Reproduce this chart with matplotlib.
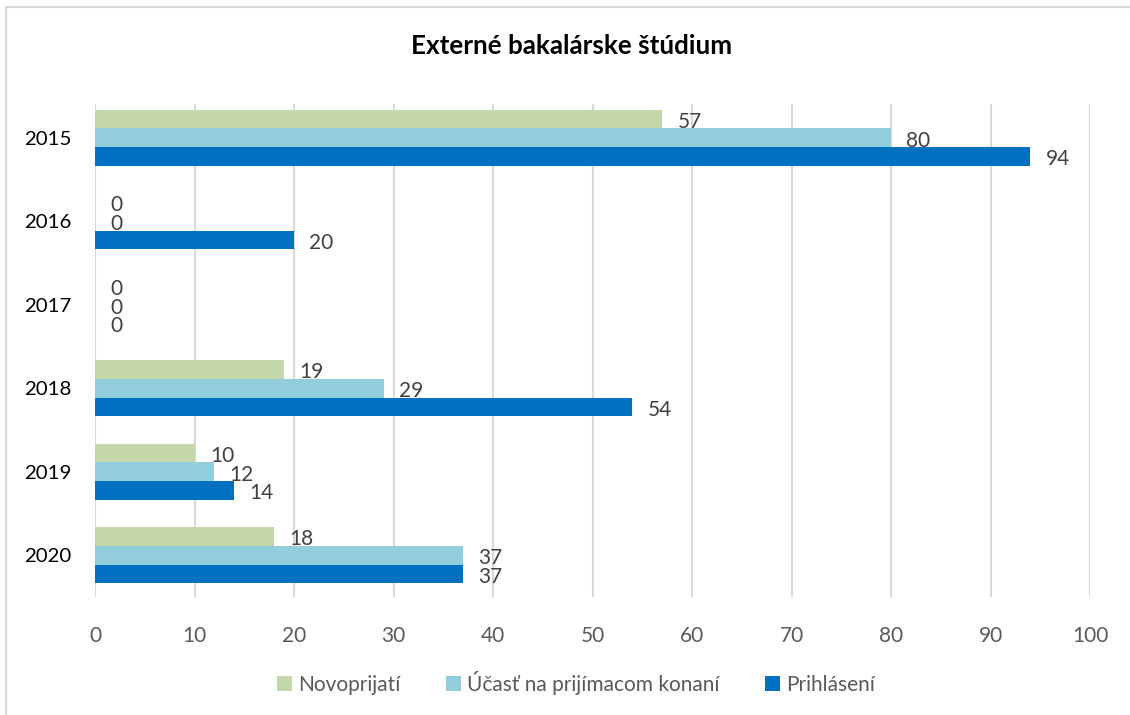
import matplotlib
matplotlib.use("Agg")
import matplotlib.pyplot as plt
from matplotlib.patches import Rectangle
import numpy as np

years = ["2015", "2016", "2017", "2018", "2019", "2020"]
novoprijati = [57, 0, 0, 19, 10, 18]
ucast = [80, 0, 0, 29, 12, 37]
prihlaseni = [94, 20, 0, 54, 14, 37]
series_names = ["Novoprijatí", "Účasť na prijímacom konaní", "Prihlásení"]
colors = ["#C4D7AA", "#92CDDC", "#0070C0"]
xticks = [0, 10, 20, 30, 40, 50, 60, 70, 80, 90, 100]

plt.rcParams['font.family'] = ['Lato', 'DejaVu Sans']

W, H = 1130, 715
fig = plt.figure(figsize=(W / 100, H / 100), dpi=100)

# chart border (top and left visible)
fig.patches.append(Rectangle((6 / W, -0.1), 1.2, 1 - 7 / H + 0.1, transform=fig.transFigure,
                             fill=False, edgecolor="#D9D9D9", linewidth=1.5))

left, right, top, bottom = 95, 1090, 96, 597
ax = fig.add_axes([left / W, 1 - bottom / H, (right - left) / W, (bottom - top) / H])

y = np.arange(len(years))
bh = 0.222
data = [novoprijati, ucast, prihlaseni]
offsets = [-bh, 0, bh]
for vals, off, col, name in zip(data, offsets, colors, series_names):
    ax.barh(y + off, vals, height=bh, color=col, label=name, zorder=3)
    for yy, v in zip(y + off, vals):
        ax.annotate(str(v), (v, yy), xytext=(11, -2), textcoords="offset points",
                    ha="left", va="center", fontsize=15, color="#404040", zorder=4)

ax.set_xlim(0, 100)
ax.set_ylim(len(years) - 0.5, -0.5)
ax.set_xticks(xticks)
ax.set_xticklabels([str(t) for t in xticks], fontsize=15, color="#595959")
ax.set_yticks(y)
ax.set_yticklabels(years, fontsize=14.7, color="#000000")
ax.tick_params(axis="both", length=0)
ax.tick_params(axis="x", pad=21)
ax.tick_params(axis="y", pad=17)
for s in ax.spines.values():
    s.set_visible(False)
ax.grid(axis="x", color="#D9D9D9", linewidth=1.5, zorder=0)
ax.set_axisbelow(True)
clip = Rectangle((0, 0), 1, (bottom - 104) / (bottom - top), transform=ax.transAxes,
                 fill=False, visible=False)
ax.add_patch(clip)
for gl in ax.get_xgridlines():
    gl.set_clip_path(clip)

fig.text(0.5 + 7 / W, 1 - 46 / H, "Externé bakalárske štúdium", ha="center", va="center",
         fontsize=18.7, fontweight="bold", color="#000000")

handles, labels = ax.get_legend_handles_labels()
fig.legend(handles, labels, loc="center", bbox_to_anchor=(576 / W, 1 - 683 / H), ncol=3,
           frameon=False, fontsize=15, labelcolor="#595959", handlelength=0.7,
           handleheight=0.7, handletextpad=0.3, columnspacing=2.2)

fig.savefig("out.png", dpi=100)
